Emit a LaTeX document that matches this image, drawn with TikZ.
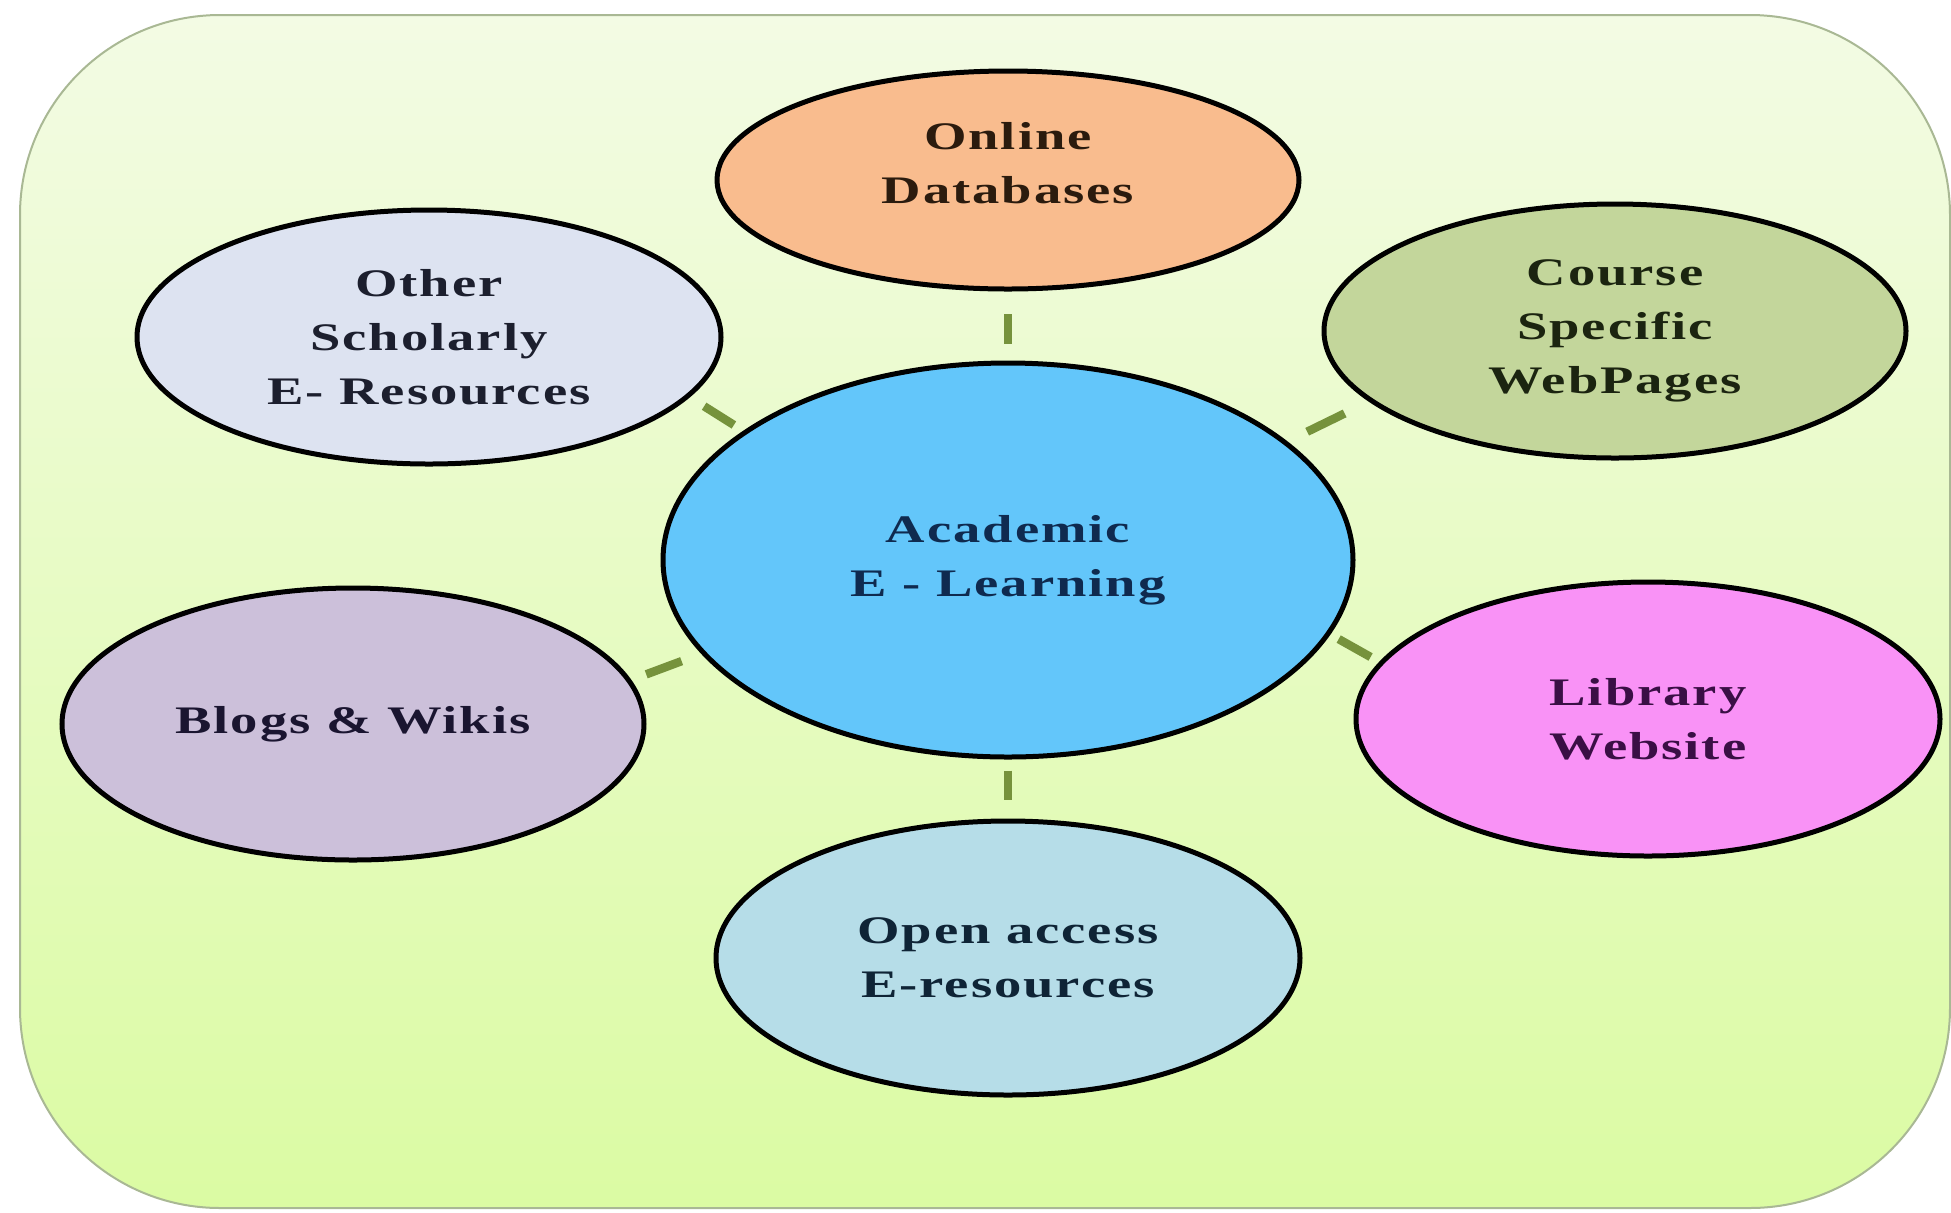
\documentclass[tikz,border=0pt]{standalone}
\usepackage{fontspec}
\newfontfamily\bubfont{Liberation Serif}[FakeStretch=1.4,LetterSpace=5]
\usetikzlibrary{shapes.geometric}
\definecolor{bgtop}{HTML}{F3FBE4}
\definecolor{bgbot}{HTML}{DBFBA3}
\definecolor{bgline}{HTML}{A9B894}
\definecolor{conncol}{HTML}{76923C}
\definecolor{cOnl}{HTML}{F9BC8E}
\definecolor{cOth}{HTML}{DDE3F1}
\definecolor{cCrs}{HTML}{C3D69B}
\definecolor{cCtr}{HTML}{63C6FA}
\definecolor{cBlg}{HTML}{CCC0DA}
\definecolor{cLib}{HTML}{F992F6}
\definecolor{cOpn}{HTML}{B6DDE8}
\definecolor{tOnl}{HTML}{2B1B0E}
\definecolor{tOth}{HTML}{1C1F2E}
\definecolor{tCrs}{HTML}{1B2410}
\definecolor{tCtr}{HTML}{0F2A4F}
\definecolor{tBlg}{HTML}{1A1530}
\definecolor{tLib}{HTML}{3A0F45}
\definecolor{tOpn}{HTML}{0F2436}
\tikzset{
  bub/.style={ellipse, draw=black, line width=2.5pt, inner sep=0pt,
    align=center, font=\bubfont\bfseries\fontsize{19.5}{27}\selectfont},
  conn/.style={draw=conncol, line width=4.25pt},
  txtnode/.style={align=center, inner sep=0pt, font=\bubfont\bfseries\fontsize{19.5}{27}\selectfont}
}
\begin{document}
\begin{tikzpicture}[x=0.5pt,y=-0.5pt]
\useasboundingbox (0,0) rectangle (1951,1212);
\path[top color=bgtop, bottom color=bgbot, draw=bgline, line width=1pt, rounded corners=100pt]
  (20,15) rectangle (1950,1208);

\node[bub, fill=cOnl, minimum width=291pt, minimum height=109pt] (onl) at (1008,180) {};
\node[txtnode, text=tOnl] (onltxt) at ([yshift=8.5pt]onl.center) {Online\\Databases};
\node[bub, fill=cOth, text=tOth, minimum width=292pt, minimum height=127pt] (oth) at (429,337) {Other\\Scholarly\\E- Resources};
\node[bub, fill=cCrs, text=tCrs, minimum width=291pt, minimum height=127pt] (crs) at (1615,331) {Course\\Specific\\WebPages};
\node[bub, fill=cCtr, text=tCtr, minimum width=345pt, minimum height=197pt] (ctr) at (1008,560) {Academic\\E - Learning};
\node[bub, fill=cBlg, text=tBlg, minimum width=291pt, minimum height=136pt] (blg) at (353,724) {Blogs \& Wikis};
\node[bub, fill=cLib, text=tLib, minimum width=292pt, minimum height=137pt] (lib) at (1648,719) {Library\\Website};
\node[bub, fill=cOpn, text=tOpn, minimum width=292pt, minimum height=137pt] (opn) at (1008,958) {Open access\\E-resources};

\draw[conn, shorten <=8.5pt, shorten >=11pt] (ctr.north) -- (onl.south);
\draw[conn, shorten <=5.5pt, shorten >=9.5pt] (ctr.south) -- (opn.north);
\draw[conn, shorten <=5.5pt, shorten >=8.5pt] (ctr.154) -- (oth.-13.5);
\draw[conn, shorten <=11pt, shorten >=13.5pt] (ctr.23.2) -- (crs.196.5);
\draw[conn, shorten <=10.5pt, shorten >=8pt] (ctr.197) -- (blg.9);
\draw[conn, shorten <=4.75pt, shorten >=5pt] (ctr.-13.4) -- (lib.168);
\end{tikzpicture}
\end{document}
